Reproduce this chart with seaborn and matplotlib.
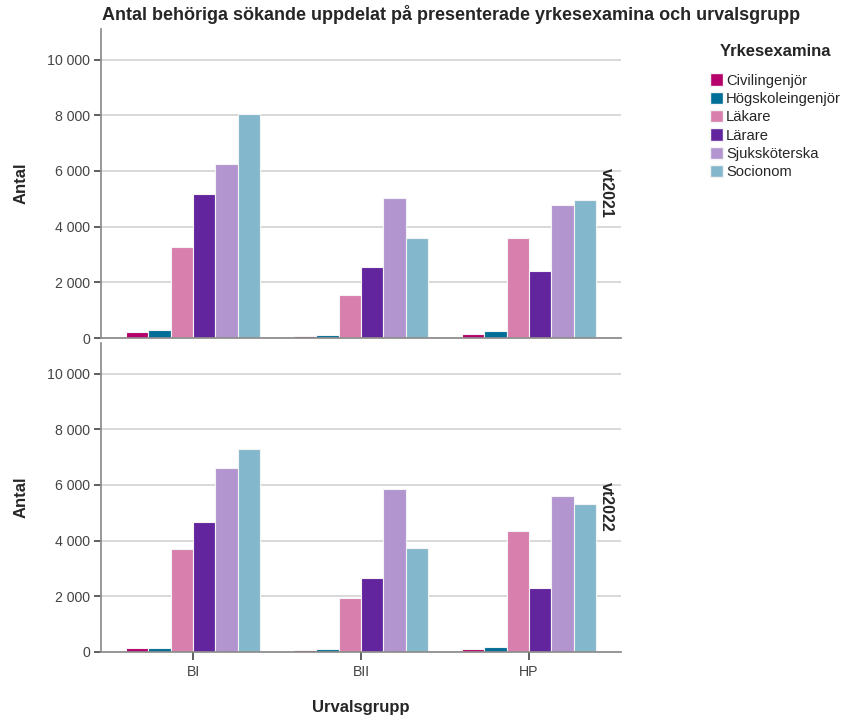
import seaborn as sns
import matplotlib.pyplot as plt
import pandas as pd
from matplotlib.patches import Patch

sns.set_theme(style="white")
plt.rcParams["font.family"] = ["Liberation Sans", "DejaVu Sans"]

groups = ["BI", "BII", "HP"]
exams = ["Civilingenjör", "Högskoleingenjör", "Läkare", "Lärare", "Sjuksköterska", "Socionom"]
colors = ["#b5006b", "#006e96", "#d97fae", "#62259e", "#b294cf", "#83b7cc"]

# values per exam, order BI, BII, HP
vt2021 = {
    "Civilingenjör": [200, 80, 130],
    "Högskoleingenjör": [275, 120, 250],
    "Läkare": [3260, 1540, 3600],
    "Lärare": [5160, 2560, 2420],
    "Sjuksköterska": [6250, 5030, 4790],
    "Socionom": [8050, 3600, 4950],
}
vt2022 = {
    "Civilingenjör": [130, 60, 110],
    "Högskoleingenjör": [160, 90, 190],
    "Läkare": [3700, 1950, 4350],
    "Lärare": [4660, 2650, 2290],
    "Sjuksköterska": [6600, 5870, 5610],
    "Socionom": [7280, 3720, 5310],
}
terms = ["vt2021", "vt2022"]


def to_frame(d):
    rows = []
    for e in exams:
        for g, v in zip(groups, d[e]):
            rows.append({"Urvalsgrupp": g, "Yrkesexamina": e, "Antal": v})
    return pd.DataFrame(rows)


fig = plt.figure(figsize=(8.42, 7.19), dpi=100)
ax1 = fig.add_axes([0.12, 0.5299, 0.6176, 0.4298])
ax2 = fig.add_axes([0.12, 0.0932, 0.6176, 0.4298])

for ax, d, term in zip([ax1, ax2], [vt2021, vt2022], terms):
    df = to_frame(d)
    sns.barplot(df, x="Urvalsgrupp", y="Antal", hue="Yrkesexamina", order=groups,
                hue_order=exams, palette=colors, width=0.8, saturation=1, ax=ax,
                edgecolor="#f4f4f4", linewidth=0.8, legend=False)
    ax.set_ylim(0, 11100)
    ax.set_xlim(-0.548, 2.548)
    ax.set_yticks(range(0, 10001, 2000))
    ax.set_yticklabels([f"{v:,}".replace(",", " ") for v in range(0, 10001, 2000)],
                       fontsize=10.2, color="#444444")
    ax.yaxis.grid(True, color="#d6d6d6", linewidth=1.3)
    ax.set_axisbelow(True)
    for s in ["top", "right"]:
        ax.spines[s].set_visible(False)
    ax.spines["left"].set_color("#8c8c8c")
    ax.spines["bottom"].set_color("#8c8c8c")
    ax.tick_params(axis="y", left=True, length=5, width=1.2, color="#444444", pad=3)
    ax.set_ylabel("Antal", fontsize=12, fontweight="bold", labelpad=13)
    ax.text(0.958, 0.47, term, transform=ax.transAxes, rotation=270, va="center",
            ha="left", fontsize=11.5, fontweight="bold")

ax1.set_xlabel("")
ax1.set_xticks([])
ax2.tick_params(axis="x", bottom=True, length=6, width=1.2, color="#444444")
ax2.set_xticklabels(groups, fontsize=10.2, color="#444444")
ax2.set_xlabel("Urvalsgrupp", fontsize=12, fontweight="bold", labelpad=15)

fig.suptitle("Antal behöriga sökande uppdelat på presenterade yrkesexamina och urvalsgrupp",
             x=0.536, y=0.993, fontsize=13, fontweight="bold")

fig.text(0.921, 0.929, "Yrkesexamina", ha="center", va="center", fontsize=12,
         fontweight="bold")
handles = [Patch(facecolor=c, edgecolor="#f4f4f4") for c in colors]
leg = fig.legend(handles, exams, loc="upper left",
                 bbox_to_anchor=(0.836, 0.906), frameon=False, fontsize=10.6,
                 handlelength=0.9, handleheight=0.9, handletextpad=0.2,
                 labelspacing=0.28, borderaxespad=0)

plt.savefig("out.png", dpi=100)
